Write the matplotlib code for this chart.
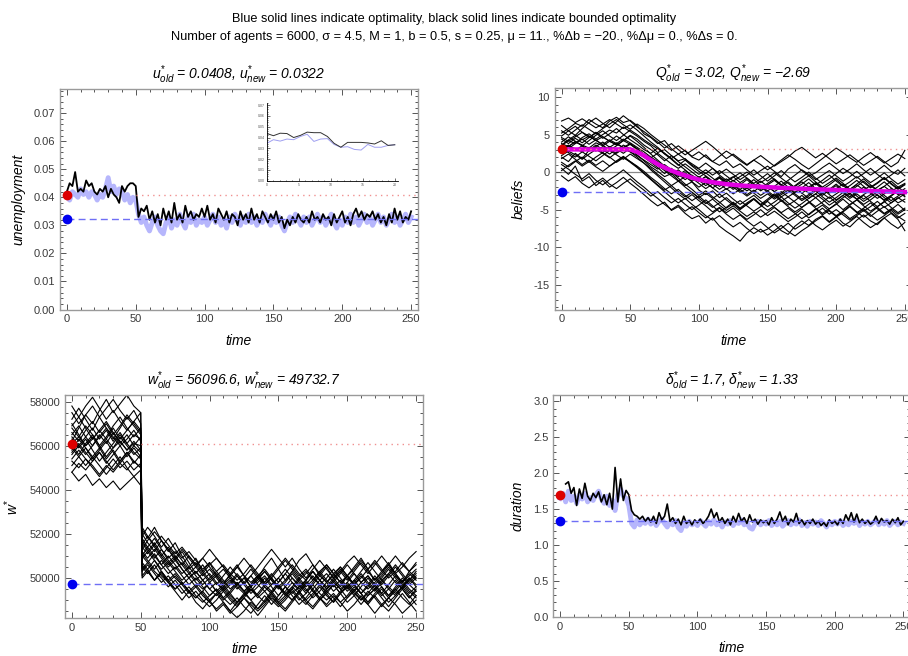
import numpy as np
import matplotlib.pyplot as plt
from matplotlib.ticker import MultipleLocator, FormatStrFormatter

plt.rcParams['font.family'] = ['Liberation Sans', 'DejaVu Sans']
plt.rcParams['mathtext.fontset'] = 'custom'
plt.rcParams['mathtext.it'] = 'Liberation Sans:italic'
plt.rcParams['mathtext.rm'] = 'Liberation Sans'
plt.rcParams['axes.unicode_minus'] = True

# ---------------- data ----------------
# unemployment, every 2 periods from t=0 to 250
u_bounded = [0.042, 0.045, 0.044, 0.049, 0.042, 0.043, 0.042, 0.046, 0.044, 0.045,
             0.042, 0.041, 0.043, 0.042, 0.044, 0.040, 0.043, 0.041, 0.040, 0.038,
             0.044, 0.042, 0.044, 0.045, 0.045, 0.044, 0.033, 0.036, 0.035, 0.037,
             0.032, 0.035, 0.031, 0.034, 0.030, 0.036, 0.032, 0.035, 0.031, 0.038,
             0.032, 0.034, 0.031, 0.037, 0.033, 0.035, 0.032, 0.034, 0.033, 0.036,
             0.033, 0.037, 0.032, 0.034, 0.031, 0.036, 0.034, 0.032, 0.035, 0.031,
             0.034, 0.033, 0.030, 0.035, 0.032, 0.034, 0.031, 0.036, 0.032, 0.034,
             0.031, 0.035, 0.033, 0.031, 0.034, 0.032, 0.035, 0.031, 0.033, 0.029,
             0.032, 0.030, 0.033, 0.031, 0.034, 0.032, 0.031, 0.033, 0.031, 0.035,
             0.032, 0.033, 0.031, 0.034, 0.032, 0.033, 0.030, 0.034, 0.031, 0.033,
             0.035, 0.031, 0.033, 0.030, 0.034, 0.036, 0.033, 0.035, 0.032, 0.034,
             0.033, 0.035, 0.032, 0.034, 0.031, 0.033, 0.030, 0.034, 0.031, 0.036,
             0.032, 0.035, 0.031, 0.033, 0.032, 0.035]
u_optimal = [0.040, 0.039, 0.042, 0.041, 0.040, 0.043, 0.041, 0.042, 0.040, 0.042,
             0.041, 0.039, 0.041, 0.040, 0.043, 0.047, 0.042, 0.044, 0.041, 0.043,
             0.042, 0.039, 0.041, 0.038, 0.040, 0.039, 0.034, 0.031, 0.033, 0.030,
             0.028, 0.031, 0.033, 0.030, 0.028, 0.027, 0.031, 0.033, 0.029, 0.032,
             0.030, 0.034, 0.031, 0.029, 0.033, 0.031, 0.034, 0.030, 0.032, 0.031,
             0.033, 0.030, 0.032, 0.034, 0.031, 0.033, 0.030, 0.032, 0.029, 0.033,
             0.031, 0.034, 0.032, 0.030, 0.033, 0.031, 0.034, 0.031, 0.033, 0.030,
             0.032, 0.031, 0.034, 0.032, 0.030, 0.033, 0.031, 0.033, 0.030, 0.028,
             0.031, 0.033, 0.031, 0.034, 0.032, 0.030, 0.033, 0.031, 0.033, 0.030,
             0.032, 0.034, 0.031, 0.033, 0.030, 0.032, 0.034, 0.031, 0.029, 0.032,
             0.030, 0.033, 0.031, 0.034, 0.031, 0.033, 0.030, 0.032, 0.034, 0.031,
             0.033, 0.030, 0.032, 0.034, 0.031, 0.033, 0.030, 0.032, 0.034, 0.031,
             0.033, 0.030, 0.032, 0.034, 0.031, 0.033]
u_old, u_new = 0.0408, 0.0322

# inset (zoom on the last periods)
inset_bounded = [0.0438, 0.0417, 0.0440, 0.0437, 0.0400, 0.0420, 0.0450, 0.0445,
                 0.0445, 0.0410, 0.0346, 0.0310, 0.0355, 0.0355, 0.0355, 0.0350,
                 0.0340, 0.0370, 0.0327, 0.0333]
inset_optimal = [0.0346, 0.0380, 0.0367, 0.0386, 0.0380, 0.0410, 0.0430, 0.0364,
                 0.0386, 0.0390, 0.0336, 0.0310, 0.0315, 0.0290, 0.0284, 0.0336,
                 0.0310, 0.0310, 0.0327, 0.0333]

# beliefs of individual agents, every 5 periods from t=0 to 250
beliefs = [
    [5.2, 5.8, 6.5, 6.1, 7.0, 6.4, 5.9, 6.8, 7.3, 6.6, 6.9, 6.2, 5.1, 4.6, 3.8, 4.2, 3.1, 2.4, 2.9, 2.0, 1.6,
     2.3, 1.4, 0.9, 1.5, 0.6, 1.1, 0.3, -0.4, 0.2, 0.8, 0.1, -0.6, 0.4, 1.0, 0.2, -0.5, -0.1, 0.6, 1.2, 0.5,
     -0.2, 0.4, 1.1, 0.3, -0.4, 0.2, 0.9, 0.1, -0.3, 0.5],
    [0.5, -0.3, 0.8, -1.2, -0.6, -1.8, -1.1, -2.0, -1.4, -0.7, -1.5, -2.2, -3.0, -3.8, -4.5, -4.0, -5.1, -4.6,
     -5.5, -6.2, -5.8, -6.8, -6.1, -7.2, -7.9, -8.5, -9.2, -8.1, -7.4, -8.0, -7.6, -6.9, -7.8, -8.3, -7.2, -6.5,
     -7.1, -6.3, -5.8, -6.6, -5.9, -6.8, -7.3, -6.4, -5.7, -6.5, -7.0, -6.1, -5.5, -6.3, -7.8],
    [3.5, 4.2, 3.8, 4.6, 5.1, 4.4, 5.0, 5.6, 5.2, 6.0, 5.4, 4.8, 4.1, 3.5, 2.6, 3.0, 2.2, 1.5, 1.8, 0.9, 0.4,
     -0.2, 0.5, -0.4, -1.1, -0.6, -1.4, -0.8, -1.6, -2.2, -1.5, -0.9, -1.7, -2.4, -1.8, -1.1, -0.5, -1.3, -2.0,
     -1.4, -0.8, -1.5, -2.3, -1.6, -0.9, -1.7, -2.4, -1.9, -1.2, -2.0, -1.5],
    [2.0, 1.4, 2.5, 1.8, 2.9, 3.3, 2.6, 3.4, 2.8, 3.6, 3.1, 2.3, 1.5, 0.7, 0.1, -0.6, -0.2, -1.1, -1.8, -1.3,
     -2.4, -3.0, -2.5, -3.4, -2.8, -3.6, -4.3, -3.7, -3.1, -3.9, -4.6, -4.0, -3.3, -4.1, -4.8, -4.2, -3.5, -2.9,
     -3.6, -4.4, -3.8, -3.1, -3.8, -4.5, -5.2, -4.6, -3.9, -4.7, -4.1, -3.4, -4.0],
    [4.8, 5.5, 4.9, 5.8, 6.6, 7.2, 6.5, 5.9, 6.7, 7.5, 6.8, 6.0, 5.4, 4.7, 4.0, 3.2, 3.8, 3.0, 2.3, 2.9, 3.5,
     4.1, 3.4, 2.6, 1.8, 2.4, 1.7, 1.0, 1.6, 2.2, 1.5, 0.8, 1.4, 2.0, 2.8, 3.3, 2.6, 1.9, 2.5, 1.8, 1.1, 1.7,
     2.3, 1.6, 0.9, 1.5, 2.1, 1.4, 0.7, 1.3, 2.9],
    [1.0, 0.4, -0.3, -0.9, -0.2, -1.1, -1.7, -1.0, -0.4, 0.3, -0.5, -1.3, -2.0, -2.8, -3.5, -4.3, -5.0, -4.4,
     -5.2, -4.6, -5.4, -6.1, -5.5, -4.8, -5.6, -6.3, -5.7, -6.5, -7.2, -6.6, -7.4, -8.1, -7.5, -6.8, -7.6, -7.0,
     -6.3, -7.1, -7.7, -7.0, -6.4, -7.2, -6.6, -5.9, -6.7, -7.4, -6.8, -6.1, -6.9, -7.5, -6.7],
    [3.0, 3.6, 2.9, 3.5, 2.8, 3.4, 4.0, 3.3, 3.9, 3.2, 3.7, 3.1, 2.4, 1.8, 1.0, 0.4, -0.3, 0.3, -0.5, -1.2, -0.6,
     -1.4, -2.1, -1.5, -2.3, -1.7, -2.5, -3.2, -2.6, -1.9, -2.7, -3.4, -2.8, -2.1, -2.9, -3.6, -3.0, -2.3, -3.1,
     -2.4, -1.8, -2.6, -3.3, -2.7, -2.0, -2.8, -3.5, -2.9, -2.2, -3.0, -2.6],
    [6.2, 5.5, 6.1, 5.3, 4.6, 5.2, 4.5, 5.1, 5.8, 5.0, 4.3, 3.7, 3.0, 2.5, 3.2, 2.4, 1.7, 0.9, 1.6, 0.8, 0.1,
     -0.5, -1.2, -0.6, -1.3, -0.7, -0.1, -0.8, -1.5, -0.9, -0.2, -1.0, -1.7, -1.1, -0.4, 0.3, -0.3, -1.0, -0.4,
     0.2, -0.5, -1.2, -0.6, 0.1, -0.7, -1.4, -0.8, -0.1, -0.9, -1.6, -1.0],
    [2.5, 3.1, 3.8, 4.4, 3.7, 4.3, 3.6, 2.9, 3.5, 4.2, 4.8, 4.1, 3.3, 2.4, 1.6, 0.8, 0.0, -0.8, -1.6, -2.3, -3.1,
     -2.5, -3.3, -4.0, -4.8, -4.2, -5.0, -4.3, -3.6, -4.4, -5.1, -4.5, -3.8, -4.6, -5.3, -4.7, -4.0, -4.8, -5.5,
     -4.9, -4.2, -5.0, -4.3, -3.7, -4.5, -5.2, -4.6, -3.9, -4.7, -5.4, -4.8],
    [-0.5, -1.2, -0.6, -1.5, -2.1, -1.4, -0.8, -1.6, -2.2, -1.5, -0.9, -1.7, -2.4, -3.2, -2.6, -3.4, -4.1, -3.5,
     -4.3, -5.0, -4.4, -3.7, -4.5, -5.3, -4.7, -4.0, -4.8, -4.1, -3.5, -4.3, -3.6, -2.9, -3.7, -4.4, -3.8, -3.1,
     -3.9, -4.6, -4.0, -3.3, -4.1, -3.4, -2.8, -3.6, -4.3, -3.7, -3.0, -3.8, -3.2, -2.5, -3.3],
    [4.0, 4.7, 4.1, 3.5, 4.2, 4.9, 5.5, 4.8, 4.2, 4.9, 5.6, 5.0, 4.3, 3.7, 3.1, 2.5, 1.8, 2.4, 1.7, 1.1, 0.5,
     1.2, 0.5, -0.2, 0.4, -0.3, -1.0, -0.4, 0.3, -0.5, -1.2, -0.5, 0.2, -0.6, -1.3, -0.7, 0.0, -0.8, -1.5, -0.9,
     -0.2, 0.5, -0.1, -0.8, -0.2, 0.5, -0.3, -1.0, -0.4, 0.3, -0.5],
    [1.8, 2.4, 1.7, 1.0, 1.6, 0.9, 1.5, 0.8, 1.4, 2.0, 1.3, 0.6, -0.2, -1.0, -1.8, -2.6, -3.4, -4.1, -3.5, -4.3,
     -5.0, -5.8, -6.4, -5.8, -6.6, -7.3, -6.7, -7.5, -8.2, -7.6, -8.4, -7.8, -7.1, -7.9, -8.5, -7.8, -7.2, -6.5,
     -5.9, -6.7, -6.0, -5.4, -6.2, -5.6, -4.9, -5.7, -6.4, -5.8, -5.1, -5.9, -6.5],
    [5.5, 4.9, 5.6, 6.3, 5.7, 5.1, 5.8, 6.4, 7.0, 6.3, 5.7, 6.4, 5.8, 5.0, 4.3, 3.6, 2.9, 3.5, 2.8, 2.1, 2.7,
     2.0, 1.4, 2.1, 2.8, 2.2, 1.5, 0.9, 1.6, 1.0, 0.3, 0.9, 1.6, 2.3, 1.7, 1.0, 0.4, 1.1, 1.8, 2.5, 3.2, 2.6,
     1.9, 1.3, 2.0, 2.6, 1.9, 1.2, 1.8, 2.4, 1.8],
    [3.2, 2.6, 2.0, 2.7, 2.1, 1.5, 2.2, 2.9, 2.3, 1.7, 2.4, 1.8, 1.2, 0.5, -0.3, -1.0, -1.8, -1.2, -2.0, -2.7,
     -3.4, -2.8, -3.5, -2.9, -3.7, -4.4, -3.8, -4.5, -5.2, -4.6, -3.9, -4.7, -5.4, -4.8, -5.5, -6.2, -5.6, -4.9,
     -5.7, -5.1, -5.8, -5.2, -4.5, -5.3, -6.0, -5.4, -4.7, -5.5, -4.9, -5.6, -5.0],
    [4.4, 3.8, 4.5, 3.9, 4.6, 5.3, 4.7, 4.1, 4.8, 4.2, 4.9, 4.4, 3.6, 3.0, 2.3, 1.5, 2.2, 1.4, 0.7, 0.0, -0.7,
     -0.1, -0.8, -1.5, -0.9, -1.6, -2.3, -1.7, -1.0, -1.8, -2.5, -1.9, -1.2, -2.0, -2.7, -2.1, -1.4, -2.2, -2.9,
     -2.3, -1.6, -2.4, -1.8, -1.1, -1.9, -2.6, -2.0, -1.3, -2.1, -2.8, -2.2],
    [2.8, 3.4, 4.1, 3.5, 2.9, 3.6, 3.0, 2.4, 3.1, 2.5, 3.2, 2.6, 2.0, 1.3, 0.6, -0.2, 0.5, -0.3, -1.0, -0.4,
     -1.1, -1.8, -1.2, -1.9, -1.3, -2.0, -2.7, -2.1, -2.8, -3.5, -2.9, -3.6, -3.0, -2.4, -3.1, -3.8, -3.2, -2.5,
     -3.3, -4.0, -3.4, -2.7, -3.5, -2.9, -3.6, -3.0, -2.3, -3.1, -3.8, -3.2, -2.6],
    [3.8, 3.4, 4.0, 3.6, 3.2, 3.9, 3.5, 4.1, 3.7, 3.3, 3.8, 3.1, 2.3, 1.6, 0.9, 0.2, -0.5, -1.2, -0.6, -1.3,
     -2.0, -1.4, -2.1, -2.8, -2.2, -2.9, -2.3, -3.0, -2.4, -3.1, -2.5, -3.2, -2.6, -3.3, -2.7, -2.1, -2.8, -3.4,
     -2.8, -3.5, -2.9, -2.3, -3.0, -3.6, -3.0, -2.4, -3.1, -3.7, -3.1, -2.5, -3.2],
    [3.0, 3.5, 3.1, 2.7, 3.3, 2.8, 3.4, 3.0, 2.5, 3.1, 2.7, 2.2, 1.6, 1.0, 0.4, 1.0, 0.3, -0.4, 0.2, -0.5,
     -1.2, -0.6, -1.3, -0.7, -1.4, -2.1, -1.5, -2.2, -1.6, -2.3, -1.7, -1.1, -1.8, -2.5, -1.9, -1.3, -2.0, -1.4,
     -2.1, -2.8, -2.2, -1.6, -2.3, -1.7, -2.4, -1.8, -2.5, -1.9, -2.6, -2.0, -2.7],
    [6.8, 7.2, 6.6, 7.1, 6.5, 5.9, 6.4, 7.0, 6.4, 5.8, 6.3, 5.6, 4.8, 4.0, 3.3, 2.5, 1.8, 1.0, 0.3, -0.5,
     -1.2, -0.6, -1.4, -0.8, -1.6, -2.3, -1.7, -1.0, -1.8, -2.5, -1.9, -2.6, -3.3, -2.7, -2.0, -2.8, -3.5, -2.9,
     -2.2, -3.0, -3.7, -3.1, -2.4, -3.2, -3.9, -3.3, -2.6, -3.4, -4.1, -3.5, -2.9],
    [0.2, 0.9, 1.5, 0.8, 1.4, 0.7, 0.1, 0.8, 1.5, 2.1, 1.4, 0.7, -0.1, -0.9, -1.7, -2.4, -1.8, -2.6, -3.3, -2.7,
     -3.5, -4.2, -3.6, -4.4, -5.1, -4.5, -5.2, -5.9, -5.3, -6.0, -5.4, -4.7, -5.5, -6.2, -5.6, -4.9, -5.7, -5.0,
     -4.4, -5.2, -5.9, -5.3, -4.6, -5.4, -4.8, -4.1, -4.9, -5.6, -5.0, -4.3, -5.1],
    [4.6, 4.1, 4.7, 5.3, 4.8, 4.2, 3.7, 4.3, 3.8, 4.4, 3.9, 3.3, 2.7, 2.0, 1.4, 0.7, 0.1, -0.6, -0.1, -0.8,
     -1.5, -2.2, -1.6, -2.3, -1.7, -1.1, -1.8, -2.5, -1.9, -1.2, -1.9, -2.6, -2.0, -1.3, -2.1, -2.8, -2.2, -1.5,
     -2.3, -1.7, -1.0, -1.8, -2.5, -1.9, -1.2, -2.0, -1.4, -0.7, -1.5, -2.2, -1.6],
    [2.2, 2.8, 2.3, 1.7, 2.4, 3.0, 2.5, 1.9, 2.6, 3.2, 2.7, 2.0, 1.2, 0.3, -0.5, -1.3, -2.1, -2.9, -3.6, -3.0,
     -3.8, -4.5, -5.3, -4.7, -5.4, -4.8, -5.6, -6.3, -5.7, -5.0, -5.8, -5.2, -5.9, -6.6, -6.0, -5.3, -6.1, -5.5,
     -4.8, -5.6, -5.0, -5.7, -6.4, -5.8, -5.1, -5.9, -5.2, -4.6, -5.4, -6.1, -5.5],
    [3.6, 4.3, 4.9, 4.3, 4.8, 4.2, 4.7, 4.1, 3.6, 4.2, 3.7, 3.0, 2.4, 1.9, 2.5, 1.8, 1.1, 0.5, 1.1, 0.4,
     -0.3, 0.3, -0.4, 0.2, -0.5, -1.2, -0.6, 0.0, -0.7, -1.4, -0.8, -0.1, -0.8, -1.5, -2.2, -1.6, -0.9, -1.7,
     -1.1, -0.4, -1.2, -1.9, -1.3, -0.6, -1.4, -2.1, -1.5, -0.8, -1.6, -2.3, -1.7],
    [1.3, 0.7, 1.4, 2.0, 1.3, 2.0, 2.6, 2.0, 1.3, 1.9, 1.4, 0.8, 0.1, -0.7, -1.4, -2.2, -2.9, -2.3, -3.1, -3.8,
     -3.2, -4.0, -4.7, -4.1, -3.4, -4.2, -4.9, -4.3, -3.6, -4.4, -3.8, -3.1, -3.9, -3.3, -4.0, -4.7, -4.1, -3.4,
     -4.2, -4.9, -4.3, -3.6, -4.4, -3.7, -3.1, -3.9, -4.6, -4.0, -3.3, -4.1, -3.6],
]
# average belief (magenta)
mean_time = [0, 10, 20, 30, 40, 50, 55, 60, 65, 70, 75, 80, 85, 90, 95, 100, 110, 120, 130, 140,
             150, 160, 170, 180, 190, 200, 210, 220, 230, 240, 250]
mean_belief = [3.02, 3.02, 3.02, 3.02, 3.02, 3.02, 2.7, 2.2, 1.6, 1.05, 0.6, 0.2, -0.15, -0.45, -0.75,
               -1.0, -1.35, -1.6, -1.78, -1.9, -2.0, -2.1, -2.18, -2.25, -2.32, -2.38, -2.44, -2.5,
               -2.55, -2.6, -2.66]
Q_old, Q_new = 3.02, -2.69

# reservation wages of individual agents
w_time = [0, 5, 10, 15, 20, 25, 30, 35, 40, 45, 50, 51, 55, 60, 65, 70, 75, 80, 85, 90, 95, 100,
          105, 110, 115, 120, 125, 130, 135, 140, 145, 150, 155, 160, 165, 170, 175, 180, 185,
          190, 195, 200, 205, 210, 215, 220, 225, 230, 235, 240, 245, 250]
wages = [
    [56200, 56800, 57400, 57000, 57600, 58100, 57500, 57900, 58300, 57800, 57500, 52200,
     51800, 52300, 51700, 51200, 51600, 51000, 50500, 50900, 50300, 50700, 50100, 49700, 50200, 50600,
     50100, 49600, 50000, 50500, 50900, 50400, 49900, 50300, 50800, 51100, 50600, 50100, 50500, 50000,
     49600, 50100, 50500, 50900, 50400, 49900, 50300, 50700, 50200, 49800, 50300, 50700],
    [54800, 54400, 54700, 54200, 54500, 54100, 54400, 54000, 54300, 54600, 54200, 50100,
     50400, 49900, 50300, 49800, 49400, 49000, 49400, 48900, 48600, 49000, 48500, 48800, 48400, 48700,
     49100, 48700, 48300, 48700, 49100, 48800, 48500, 48900, 49300, 48900, 48600, 49000, 49400, 49100,
     48700, 49100, 49500, 49100, 48800, 49200, 48800, 48500, 48900, 49300, 48900, 48500],
    [56000, 55600, 56100, 56500, 56000, 55500, 55900, 56400, 56000, 55600, 55900, 51400,
     51100, 51500, 51000, 50600, 50900, 50400, 50000, 50300, 49900, 49500, 49800, 49400, 49700, 50100,
     49700, 49300, 49600, 50000, 49600, 49200, 49600, 50000, 49700, 49300, 49700, 50100, 49800, 49400,
     49700, 50100, 49700, 49300, 49600, 50000, 49600, 49200, 49600, 50000, 49700, 49400],
    [57200, 57700, 57200, 56700, 57300, 56800, 56300, 56800, 57300, 56900, 56500, 52000,
     51600, 51200, 51700, 51300, 50800, 51200, 50700, 50200, 50600, 50100, 49700, 50100, 50500, 50100,
     49700, 50100, 50500, 50900, 51300, 50900, 50500, 50900, 50400, 50000, 50400, 50800, 50400, 50000,
     50300, 50700, 51000, 50600, 50200, 50600, 51000, 50600, 50200, 50500, 50900, 51200],
    [55300, 55000, 55400, 55100, 54700, 55100, 54800, 55200, 54900, 55300, 55000, 50700,
     50400, 50800, 50300, 49900, 50200, 49800, 49400, 49700, 49300, 48900, 49300, 48900, 48500, 48900,
     49300, 49000, 48600, 49000, 49400, 49000, 49400, 49800, 49400, 49000, 49300, 49700, 49300, 48900,
     49300, 49600, 49200, 48800, 49200, 49500, 49100, 48700, 49100, 49500, 49100, 49400],
    [56500, 56900, 56400, 56800, 56300, 56700, 56200, 56600, 56100, 56500, 56300, 51700,
     51300, 50900, 51300, 50800, 50400, 50700, 50300, 49900, 50200, 49800, 50100, 49700, 49300, 49700,
     50000, 49600, 49900, 50300, 49900, 49500, 49800, 50200, 49800, 49400, 49800, 50200, 50600, 50200,
     49800, 50100, 49700, 49300, 49700, 50100, 49700, 50100, 50500, 50100, 49700, 50000],
    [55800, 56300, 55900, 55400, 55800, 56200, 55700, 55200, 55600, 56000, 55700, 51000,
     50700, 51100, 50600, 50200, 50500, 50100, 49700, 50000, 49600, 49200, 49500, 49100, 48800, 49100,
     48700, 48400, 48800, 49200, 48800, 49200, 49600, 49200, 48800, 49100, 49500, 49100, 48700, 49000,
     49400, 49800, 49400, 49000, 49300, 49700, 49300, 48900, 49200, 49600, 49200, 48800],
    [57800, 57300, 57800, 58200, 57700, 57200, 57600, 57100, 56700, 57100, 57500, 51300,
     51700, 52100, 51700, 51300, 50900, 51300, 50900, 50500, 50900, 51300, 50900, 50500, 50100, 50500,
     50900, 50500, 50100, 49800, 50200, 49800, 50200, 50600, 50200, 49900, 50300, 49900, 49500, 49900,
     50300, 49900, 50300, 50700, 50300, 49900, 50200, 50600, 50200, 49800, 50200, 49900],
    [56300, 55900, 56300, 55800, 55300, 55700, 56100, 56500, 56100, 55700, 55400, 50900,
     51200, 50800, 50400, 50700, 50300, 49900, 50200, 49800, 49500, 49800, 49400, 49700, 50000, 49600,
     49300, 49600, 50000, 49600, 49300, 49700, 49300, 49000, 49400, 49800, 49400, 49100, 49500, 49900,
     49500, 49100, 49400, 49800, 50100, 49700, 49300, 49700, 50100, 49700, 49300, 49600],
    [55600, 56000, 56400, 56000, 56500, 56100, 56600, 56200, 55800, 56200, 55800, 51600,
     51200, 51600, 51100, 50700, 51000, 50600, 50200, 50500, 50100, 50400, 50000, 49600, 49900, 49500,
     49800, 50100, 49700, 49400, 49700, 50000, 49600, 49300, 49600, 49900, 49500, 49900, 50200, 49800,
     49500, 49800, 50200, 49800, 49500, 49800, 50100, 50500, 50100, 49800, 50100, 50400],
    [54800, 55200, 54900, 55300, 55700, 55300, 54900, 55300, 55700, 55300, 55000, 50300,
     50600, 50200, 49800, 50100, 49700, 49300, 49600, 49200, 48900, 49200, 49500, 49100, 49400, 49800,
     49400, 49000, 49300, 49700, 50000, 49600, 49200, 49500, 49900, 49500, 49100, 49400, 49800, 50200,
     49800, 49400, 49700, 49300, 48900, 49300, 49600, 49200, 49500, 49900, 49500, 49200],
    [57000, 56500, 56000, 56400, 55900, 56300, 56800, 56300, 56700, 57100, 56700, 51900,
     52300, 51900, 51400, 51800, 51300, 50900, 51200, 50800, 50400, 50700, 50300, 50600, 50200, 49900,
     50200, 50600, 50200, 49800, 50100, 50500, 50900, 50500, 50100, 50400, 50000, 49700, 50000, 50400,
     50000, 49600, 49900, 50300, 50700, 50300, 49900, 50200, 50600, 50200, 49800, 50100],
    [56100, 56400, 56000, 56300, 56700, 56300, 55900, 56200, 55800, 56100, 56000, 51100,
     50800, 50400, 50800, 50400, 50000, 49700, 50000, 49600, 49900, 49500, 49200, 49500, 49100, 48800,
     49100, 49500, 49200, 49600, 49300, 48900, 49200, 49600, 49300, 49700, 50100, 49700, 49400, 49700,
     49300, 49600, 49900, 49500, 49200, 49500, 49900, 49600, 49300, 49600, 50000, 49700],
    [55900, 55500, 55100, 55500, 55900, 55400, 55800, 55300, 55700, 55200, 55600, 50500,
     50200, 50600, 50100, 49800, 50100, 49700, 49300, 49600, 49200, 48900, 48600, 48900, 48500, 48200,
     48500, 48900, 48600, 48900, 49300, 48900, 48600, 49000, 49400, 49000, 48700, 49100, 48800, 49200,
     48900, 48500, 48800, 49200, 48800, 48400, 48800, 49100, 48800, 48400, 48700, 49000],
    [56800, 56400, 56900, 56500, 56000, 56400, 56900, 57300, 56800, 56400, 56800, 51500,
     51900, 51400, 51000, 51400, 51000, 50600, 51000, 50600, 50200, 50600, 50900, 50500, 50100, 50500,
     50100, 49800, 50100, 50400, 50000, 50400, 50800, 50400, 50000, 50300, 49900, 50300, 50600, 50200,
     50500, 50100, 50400, 50800, 50400, 50700, 50300, 50600, 51000, 50600, 50300, 50600],
    [55400, 55800, 55400, 55000, 54600, 55000, 55400, 55000, 55300, 54900, 55200, 50000,
     50300, 49900, 50200, 49800, 49500, 49800, 49400, 49100, 49400, 49000, 49300, 49600, 49200, 48900,
     49200, 49500, 49100, 49400, 49000, 48700, 49000, 49400, 49000, 49300, 49700, 49300, 49000, 49300,
     48900, 49200, 49600, 49300, 48900, 49200, 49500, 49100, 49400, 49800, 49400, 49100],
    [56600, 56200, 56700, 57100, 56600, 57000, 56500, 56900, 57400, 57000, 56600, 51800,
     51400, 51800, 51300, 50900, 51200, 50800, 50400, 50700, 50300, 49900, 50200, 49800, 50100, 49700,
     49400, 49700, 50100, 49700, 49400, 49800, 50200, 49800, 49500, 49900, 50300, 49900, 49600, 50000,
     50400, 50000, 49700, 50100, 49700, 49400, 49800, 50200, 49800, 49500, 49900, 50300],
    [55100, 55500, 55900, 55500, 55100, 54700, 55100, 55500, 55000, 54600, 54900, 50400,
     50700, 50300, 50000, 49600, 49900, 49500, 49100, 49400, 49000, 48700, 49000, 49400, 49000, 48700,
     49100, 48800, 48500, 48800, 49200, 48800, 49100, 49500, 49100, 48800, 49200, 49600, 49200, 48900,
     49300, 49700, 49300, 49000, 49400, 49100, 48700, 49100, 49500, 49100, 48800, 49200],
    [56400, 56000, 55600, 56000, 56400, 56800, 56400, 56000, 56300, 56700, 56200, 51200,
     50900, 51300, 50900, 50500, 50800, 50400, 50000, 50300, 49900, 50200, 49800, 49500, 49800, 50200,
     49800, 49400, 49800, 50100, 49700, 50000, 50400, 50000, 49600, 49900, 50300, 49900, 49500, 49800,
     50200, 50600, 50200, 49800, 50100, 49700, 50000, 50400, 50000, 49600, 49900, 50200],
    [57500, 57000, 57400, 57800, 57300, 57700, 58100, 57600, 57200, 57600, 57000, 52300,
     51900, 51500, 51900, 51500, 51100, 51400, 51000, 50600, 50900, 50500, 50100, 50400, 50000, 49700,
     50000, 50400, 50000, 50300, 49900, 49600, 49900, 50300, 49900, 50200, 50600, 50200, 49800, 50100,
     50500, 50100, 49700, 50000, 50400, 50800, 50400, 50000, 50300, 50700, 50300, 50000],
    [55700, 56100, 55700, 55300, 55700, 55200, 55600, 56000, 55500, 55900, 55500, 50600,
     50300, 49900, 50300, 49900, 49500, 49800, 49400, 49100, 49400, 49800, 49400, 49000, 49300, 48900,
     49200, 49600, 49200, 48900, 49300, 49700, 49300, 49000, 49400, 49800, 49400, 49000, 49300, 49700,
     49300, 48900, 49200, 49600, 50000, 49600, 49200, 49500, 49900, 49500, 49100, 49500],
    [56900, 57300, 56800, 56300, 56700, 57100, 56600, 56100, 56500, 56000, 56400, 51000,
     51400, 51000, 50600, 51000, 50600, 50200, 50500, 50100, 49700, 50000, 50300, 49900, 49500, 49800,
     49400, 49700, 50100, 49700, 50000, 49600, 49300, 49600, 50000, 49600, 49900, 50300, 49900, 49600,
     49900, 49500, 49800, 50200, 49800, 49500, 49900, 49500, 49200, 49600, 50000, 49600],
]
w_old, w_new = 56096.6, 49732.7

# unemployment duration; bounded series starts at t=4, optimal at t=0 (every 2 periods)
d_bounded = [1.85, 1.88, 1.72, 1.80, 1.55, 1.78, 1.65, 1.86, 1.68, 1.62, 1.72, 1.66, 1.74, 1.60,
             1.70, 1.56, 1.72, 1.50, 2.08, 1.60, 1.92, 1.62, 1.76, 1.70, 1.48, 1.42, 1.40, 1.36,
             1.40, 1.33, 1.38, 1.32, 1.40, 1.30, 1.45, 1.35, 1.40, 1.57, 1.33, 1.38, 1.30, 1.36,
             1.28, 1.40, 1.30, 1.34, 1.28, 1.35, 1.31, 1.36, 1.30, 1.34, 1.40, 1.50, 1.38, 1.45,
             1.32, 1.38, 1.30, 1.36, 1.28, 1.40, 1.32, 1.44, 1.33, 1.38, 1.30, 1.42, 1.32, 1.36,
             1.29, 1.35, 1.31, 1.34, 1.28, 1.38, 1.30, 1.36, 1.46, 1.33, 1.40, 1.28, 1.36, 1.32,
             1.44, 1.30, 1.35, 1.28, 1.34, 1.30, 1.36, 1.29, 1.33, 1.27, 1.31, 1.26, 1.35, 1.30,
             1.33, 1.28, 1.36, 1.30, 1.42, 1.34, 1.45, 1.32, 1.43, 1.31, 1.36, 1.30, 1.34, 1.29,
             1.32, 1.40, 1.30, 1.37, 1.32, 1.34, 1.29, 1.36, 1.31, 1.38, 1.28, 1.33]
d_optimal = [1.65, 1.72, 1.60, 1.75, 1.62, 1.68, 1.58, 1.70, 1.64, 1.72, 1.60, 1.66, 1.62, 1.70,
             1.75, 1.64, 1.58, 1.68, 1.55, 1.62, 1.48, 1.70, 1.78, 1.68, 1.65, 1.55, 1.30, 1.25,
             1.35, 1.28, 1.33, 1.30, 1.36, 1.29, 1.34, 1.27, 1.33, 1.36, 1.30, 1.25, 1.32, 1.28,
             1.34, 1.24, 1.20, 1.30, 1.26, 1.33, 1.28, 1.31, 1.27, 1.34, 1.30, 1.26, 1.33, 1.29,
             1.35, 1.28, 1.31, 1.25, 1.32, 1.29, 1.34, 1.27, 1.32, 1.30, 1.35, 1.28, 1.31, 1.24,
             1.22, 1.30, 1.33, 1.28, 1.32, 1.29, 1.34, 1.27, 1.31, 1.28, 1.33, 1.26, 1.30, 1.34,
             1.28, 1.32, 1.29, 1.35, 1.27, 1.31, 1.26, 1.33, 1.29, 1.32, 1.27, 1.34, 1.30, 1.25,
             1.32, 1.28, 1.33, 1.29, 1.34, 1.27, 1.31, 1.28, 1.33, 1.30, 1.35, 1.27, 1.32, 1.29,
             1.33, 1.28, 1.31, 1.35, 1.28, 1.32, 1.29, 1.34, 1.27, 1.31, 1.33, 1.28, 1.32, 1.30]
d_old, d_new = 1.7, 1.33

# ---------------- styling helpers ----------------
FRAME = '#9a9a9a'
TICKLAB = '#3a3a3a'
LIGHTBLUE = '#b6b6fc'
DASHBLUE = '#6f6ff5'
DOTRED = '#f09090'


def frame(ax, ylim, ymajor, yminor, fmt):
    ax.set_xlim(-5, 255)
    ax.set_ylim(*ylim)
    ax.xaxis.set_major_locator(MultipleLocator(50))
    ax.xaxis.set_minor_locator(MultipleLocator(10))
    ax.yaxis.set_major_locator(MultipleLocator(ymajor))
    ax.yaxis.set_minor_locator(MultipleLocator(yminor))
    ax.yaxis.set_major_formatter(FormatStrFormatter(fmt))
    for s in ax.spines.values():
        s.set_color(FRAME)
        s.set_linewidth(1.0)
    ax.tick_params(which='both', direction='in', top=True, right=True, color='#555555',
                   labelsize=8, labelcolor=TICKLAB, width=0.7)
    ax.tick_params(which='major', length=4)
    ax.tick_params(which='minor', length=2)
    ax.set_xlabel('time', fontsize=10, style='italic', labelpad=7)


def marks(ax, old, new, start_red=50):
    ax.plot([start_red, 255], [old, old], color=DOTRED, lw=1.0, ls=(0, (1, 3)), zorder=6)
    ax.plot([0, 255], [new, new], color=DASHBLUE, lw=1.0, ls=(0, (5, 3)), zorder=6)
    ax.plot([0], [old], 'o', color='#dd0000', ms=6, zorder=7, clip_on=False)
    ax.plot([0], [new], 'o', color='#0000f0', ms=6, zorder=7, clip_on=False)


fig = plt.figure(figsize=(9.08, 6.56), dpi=100)

fig.text(0.5, 1 - 19 / 656, 'Blue solid lines indicate optimality, black solid lines indicate bounded optimality',
         ha='center', va='center', fontsize=9.2)
fig.text(0.5, 1 - 37 / 656,
         'Number of agents = 6000, σ = 4.5, M = 1, b = 0.5, s = 0.25, μ = 11., %Δb = −20., %Δμ = 0., %Δs = 0.',
         ha='center', va='center', fontsize=9.2)

# ---- unemployment ----
ax1 = fig.add_axes([60 / 908, 1 - 309.5 / 656, 358 / 908, 220.5 / 656])
t_u = np.linspace(0, 250, len(u_bounded))
ax1.plot(np.linspace(0, 250, len(u_optimal)), u_optimal, color=LIGHTBLUE, lw=3.5, zorder=2)
ax1.plot(t_u, u_bounded, color='black', lw=1.3, zorder=3)
marks(ax1, u_old, u_new)
frame(ax1, (0, 0.0786), 0.01, 0.002, '%.2f')
ax1.set_ylabel('unemployment', fontsize=10, style='italic', labelpad=6)
ax1.set_title(r'$u^{*}_{old}$ = 0.0408, $u^{*}_{new}$ = 0.0322', fontsize=10, style='italic', pad=7)

axin = fig.add_axes([266.7 / 908, 1 - 180.7 / 656, 131.3 / 908, 77.7 / 656])
axin.plot(np.linspace(0, 20, len(inset_optimal)), inset_optimal, color='#9f9ff0', lw=0.7)
axin.plot(np.linspace(0, 20, len(inset_bounded)), inset_bounded, color='#333333', lw=0.7)
axin.set_xlim(0, 20.5)
axin.set_ylim(0, 0.072)
axin.spines['top'].set_visible(False)
axin.spines['right'].set_visible(False)
for s in ('left', 'bottom'):
    axin.spines[s].set_linewidth(0.6)
axin.xaxis.set_major_locator(MultipleLocator(5))
axin.xaxis.set_minor_locator(MultipleLocator(1))
axin.yaxis.set_major_locator(MultipleLocator(0.01))
axin.yaxis.set_minor_locator(MultipleLocator(0.002))
axin.yaxis.set_major_formatter(FormatStrFormatter('%.2f'))
axin.tick_params(which='both', direction='in', labelsize=2.5, width=0.4, pad=1.5, labelcolor='#555555')
axin.tick_params(which='major', length=2)
axin.tick_params(which='minor', length=1)

# ---- beliefs ----
ax2 = fig.add_axes([554.7 / 908, 1 - 309.5 / 656, 357 / 908, 221.5 / 656])
ax2.axhline(0, color='#888888', lw=0.9, zorder=1)
t_b = np.linspace(0, 250, len(beliefs[0]))
for b in beliefs:
    ax2.plot(t_b, b, color='black', lw=0.8, zorder=2)
ax2.plot(mean_time, mean_belief, color='#e000e0', lw=3.2, zorder=5)
marks(ax2, Q_old, Q_new, start_red=0)
frame(ax2, (-18.3, 11.2), 5, 1, '%g')
ax2.set_ylabel('beliefs', fontsize=10, style='italic', labelpad=6)
ax2.set_title(r'$Q^{*}_{old}$ = 3.02, $Q^{*}_{new}$ = −2.69', fontsize=10, style='italic', pad=7)

# ---- reservation wage ----
ax3 = fig.add_axes([65 / 908, 1 - 617.7 / 656, 358 / 908, 222.7 / 656])
for w in wages:
    ax3.plot(w_time[:len(w)], w, color='black', lw=0.8, zorder=2)
marks(ax3, w_old, w_new)
frame(ax3, (48200, 58300), 2000, 500, '%d')
ax3.set_ylabel(r'$w^{*}$', fontsize=10, labelpad=6)
ax3.set_title(r'$w^{*}_{old}$ = 56096.6, $w^{*}_{new}$ = 49732.7', fontsize=10, style='italic', pad=7)

# ---- duration ----
ax4 = fig.add_axes([553.3 / 908, 1 - 616.7 / 656, 357 / 908, 221.7 / 656])
ax4.plot(np.linspace(0, 250, len(d_optimal)), d_optimal, color=LIGHTBLUE, lw=3.5, zorder=2)
ax4.plot(np.linspace(4, 250, len(d_bounded)), d_bounded, color='black', lw=1.2, zorder=3)
marks(ax4, d_old, d_new)
frame(ax4, (0, 3.09), 0.5, 0.1, '%.1f')
ax4.set_ylabel('duration', fontsize=10, style='italic', labelpad=6)
ax4.set_title(r'$\delta^{*}_{old}$ = 1.7, $\delta^{*}_{new}$ = 1.33', fontsize=10, style='italic', pad=7)

fig.savefig('out.png', dpi=100)
